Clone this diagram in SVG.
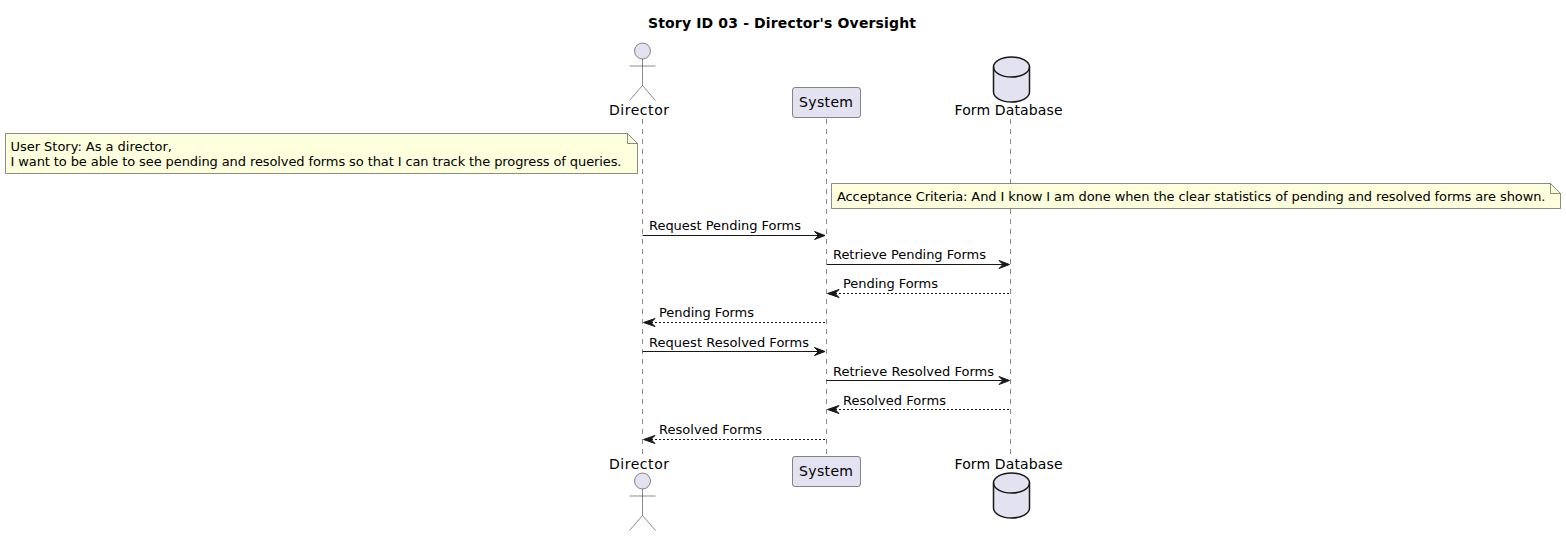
<svg xmlns="http://www.w3.org/2000/svg" width="1566" height="536" viewBox="0 0 1566 536">
<defs>
<style>
text{font-family:"DejaVu Sans",sans-serif;font-size:13px;fill:#000}
.t{font-size:14px;font-weight:bold}
.p{font-size:14px}
.life{stroke:#181818;stroke-width:.5;stroke-dasharray:5,5;fill:none}
.sh{fill:#E2E2F0;stroke:#181818;stroke-width:.5}
.db{fill:#E2E2F0;stroke:#181818;stroke-width:1.5}
.dbl{fill:none;stroke:#181818;stroke-width:1.5}
.note{fill:#FEFFDD;stroke:#181818;stroke-width:.5}
.notef{fill:none;stroke:#181818;stroke-width:.5}
.m{stroke:#181818;stroke-width:1;fill:none}
.r{stroke-dasharray:2,2}
.h{fill:#181818;stroke:#181818;stroke-width:1}
</style>
<path id="ah" d="M0,0 L-10.500,-4 L-6.500,0 L-10.500,4 Z"/>
<path id="al" d="M0,0 L11.500,-4 L7.500,0 L11.500,4 Z"/>
<g id="actor"><circle class="sh" cx="642.5" cy="51" r="8"/><path class="sh" style="fill:none" d="M642.5,59V85.500M629.500,66H655.500M642.500,85.500L629.500,100.500M642.500,85.500L655.500,100.500"/></g>
<g id="cyl"><path class="db" d="M993.500,67C993.500,61.500 1001.500,57 1011.500,57C1021.500,57 1029.500,61.500 1029.500,67V92C1029.500,97.500 1021.500,102 1011.500,102C1001.500,102 993.500,97.500 993.500,92Z"/><path class="dbl" d="M993.500,67C993.500,72.500 1001.500,77 1011.500,77C1021.500,77 1029.500,72.500 1029.500,67"/></g>
</defs>
<rect width="1566" height="536" fill="#fff"/>
<text class="t" x="648" y="28" textLength="268">Story ID 03 - Director's Oversight</text>
<g id="lifelines">
<path class="life" d="M642.500,119V455"/>
<path class="life" d="M826.500,119V455"/>
<path class="life" d="M1010.500,119V455"/>
</g>
<g id="director-top"><use href="#actor"/><text class="p" x="609" y="115" textLength="60">Director</text></g>
<g id="system-top"><rect class="sh" x="792.500" y="87.500" width="68" height="30" rx="2.500"/><text class="p" x="799" y="107" textLength="54">System</text></g>
<g id="database-top"><use href="#cyl"/><text class="p" x="954.500" y="115" textLength="108">Form Database</text></g>
<g id="director-bottom"><use href="#actor" y="430"/><text class="p" x="609" y="469" textLength="60">Director</text></g>
<g id="system-bottom"><rect class="sh" x="792.500" y="456.500" width="68" height="30" rx="2.500"/><text class="p" x="799" y="476" textLength="54">System</text></g>
<g id="database-bottom"><use href="#cyl" y="416"/><text class="p" x="954.500" y="469" textLength="108">Form Database</text></g>
<g id="note-story">
<path class="note" d="M5.500,133.500H627.500L637.500,143.500V173.500H5.500Z"/><path class="notef" d="M627.500,133.500V143.500H637.500"/>
<text x="10.500" y="151" textLength="161.500">User Story: As a director,</text>
<text x="10.500" y="166" textLength="611">I want to be able to see pending and resolved forms so that I can track the progress of queries.</text>
</g>
<g id="note-criteria">
<path class="note" d="M831.500,183.500H1550.500L1560.500,193.500V208.500H831.500Z"/><path class="notef" d="M1550.500,183.500V193.500H1560.500"/>
<text x="837" y="201" textLength="708.500">Acceptance Criteria: And I know I am done when the clear statistics of pending and resolved forms are shown.</text>
</g>
<g id="connectors">
<path class="m" d="M642.500,235.500H820"/><use class="h" href="#ah" x="825" y="235.500"/>
<path class="m" d="M826.500,264.500H1004"/><use class="h" href="#ah" x="1009.500" y="264.500"/>
<path class="m r" d="M831,293.500H1010"/><use class="h" href="#al" x="827.500" y="293.500"/>
<path class="m r" d="M647,322.500H826"/><use class="h" href="#al" x="643.500" y="322.500"/>
<path class="m" d="M642.500,351.500H820"/><use class="h" href="#ah" x="825" y="351.500"/>
<path class="m" d="M826.500,380.500H1004"/><use class="h" href="#ah" x="1009.500" y="380.500"/>
<path class="m r" d="M831,409.500H1010"/><use class="h" href="#al" x="827.500" y="409.500"/>
<path class="m r" d="M647,439.500H826"/><use class="h" href="#al" x="643.500" y="439.500"/>
</g>
<g id="labels">
<text x="649" y="230" textLength="152">Request Pending Forms</text>
<text x="833" y="259" textLength="153">Retrieve Pending Forms</text>
<text x="843" y="288" textLength="95">Pending Forms</text>
<text x="659" y="317" textLength="95">Pending Forms</text>
<text x="649" y="347" textLength="160">Request Resolved Forms</text>
<text x="833" y="376" textLength="161">Retrieve Resolved Forms</text>
<text x="843" y="405" textLength="103">Resolved Forms</text>
<text x="659" y="434" textLength="103">Resolved Forms</text>
</g>
</svg>
